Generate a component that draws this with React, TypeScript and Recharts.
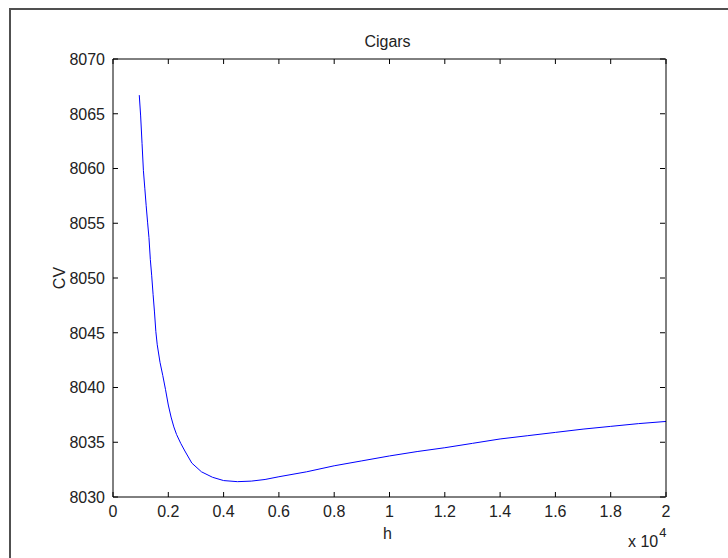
import { Line, LineChart, XAxis, YAxis } from "recharts";

const hValues = [
  950, 1000, 1050, 1100, 1150, 1200, 1250, 1300, 1350, 1400, 1450, 1500, 1550, 1600, 1700, 1800, 1900,
  2000, 2100, 2200, 2300, 2450, 2600, 2850, 3200, 3600, 4000, 4500, 5000, 5500, 6000, 7000, 8000, 9000,
  10000, 11000, 12000, 13000, 14000, 15000, 16000, 17000, 18000, 19000, 20000
];
const cvValues = [
  8066.7, 8064.8, 8062.3, 8059.8, 8058.2, 8056.6, 8055.1, 8053.7, 8051.7, 8050.2, 8048.5, 8046.9, 8045.1,
  8043.9, 8042.3, 8041.1, 8039.8, 8038.4, 8037.3, 8036.4, 8035.7, 8034.9, 8034.2, 8033.1, 8032.3, 8031.8,
  8031.5, 8031.4, 8031.45, 8031.6, 8031.85, 8032.3, 8032.85, 8033.3, 8033.75, 8034.15, 8034.5, 8034.9,
  8035.3, 8035.6, 8035.9, 8036.2, 8036.45, 8036.7, 8036.9
];
const xTicks = [0, 2000, 4000, 6000, 8000, 10000, 12000, 14000, 16000, 18000, 20000];
const yTicks = [8030, 8035, 8040, 8045, 8050, 8055, 8060, 8065, 8070];

const data = hValues.map((h, i) => ({ h, cv: cvValues[i] }));

const FONT = "'Liberation Sans', Arial, Helvetica, sans-serif";
const INK = "#222";
const TICK = 5;
// plot box size, used to mirror tick marks onto the top and right edges
const PLOT_W = 552;
const PLOT_H = 438;

const fmtX = (v: number) => String(Number((v / 10000).toFixed(1)));

function BottomTick({ x, y, payload }: any) {
  return (
    <g>
      <line x1={x} x2={x} y1={y} y2={y - TICK} stroke="#000" />
      <line x1={x} x2={x} y1={y - PLOT_H} y2={y - PLOT_H + TICK} stroke="#000" />
      <text x={x} y={y + 20} textAnchor="middle" fill={INK} fontSize={16} fontFamily={FONT}>
        {fmtX(payload.value)}
      </text>
    </g>
  );
}

function LeftTick({ x, y, payload }: any) {
  return (
    <g>
      <line x1={x} x2={x + TICK} y1={y} y2={y} stroke="#000" />
      <line x1={x + PLOT_W} x2={x + PLOT_W - TICK} y1={y} y2={y} stroke="#000" />
      <text x={x - 8} y={y} dy="0.36em" textAnchor="end" fill={INK} fontSize={16} fontFamily={FONT}>
        {payload.value}
      </text>
    </g>
  );
}

function XLabel({ viewBox }: any) {
  const { x, y, width } = viewBox;
  return (
    <g fill={INK} fontFamily={FONT}>
      <text x={x + width / 2 - 2} y={y + 42} textAnchor="middle" fontSize={16}>
        h
      </text>
      <text x={x + width - 38} y={y + 50} fontSize={16}>
        x 10
        <tspan dx={1} dy={-10} fontSize={13}>
          4
        </tspan>
      </text>
      <text x={x + width / 2 - 2} y={y - 450} textAnchor="middle" fontSize={16}>
        Cigars
      </text>
    </g>
  );
}

function YLabel({ viewBox }: any) {
  const { y, height } = viewBox;
  const cx = 59;
  const cy = y + height / 2;
  return (
    <text x={cx} y={cy} transform={`rotate(-90 ${cx} ${cy})`} textAnchor="middle" dy="0.36em" fill={INK} fontSize={16} fontFamily={FONT}>
      CV
    </text>
  );
}

export default function App() {
  return (
    <div style={{ position: "absolute", left: 0, top: 0, width: 728, height: 558, overflow: "hidden", background: "#fff" }}>
      <div
        style={{
          position: "absolute",
          left: 9,
          top: 8,
          width: 760,
          height: 600,
          borderLeft: "2px solid #505050",
          borderTop: "2px solid #505050"
        }}
      />
      <div style={{ position: "absolute", left: 0, top: 0 }}>
        <LineChart width={728} height={558} data={data} margin={{ top: 58, right: 61, left: 0, bottom: 0 }}>
          <XAxis
            dataKey="h"
            type="number"
            domain={[0, 20000]}
            ticks={xTicks}
            interval={0}
            height={61}
            tickSize={0}
            tickMargin={0}
            tickLine={false}
            axisLine={{ stroke: "#000" }}
            tick={<BottomTick />}
            label={{ content: (p: any) => <XLabel {...p} /> }}
          />
          <XAxis
            xAxisId="top"
            orientation="top"
            type="number"
            domain={[0, 20000]}
            height={1}
            tickLine={false}
            axisLine={{ stroke: "#000" }}
            tick={false}
          />
          <YAxis
            type="number"
            domain={[8030, 8070]}
            ticks={yTicks}
            interval={0}
            width={113}
            tickSize={0}
            tickMargin={0}
            tickLine={false}
            axisLine={{ stroke: "#000" }}
            tick={<LeftTick />}
            label={{ content: (p: any) => <YLabel {...p} /> }}
          />
          <YAxis
            yAxisId="right"
            orientation="right"
            type="number"
            domain={[8030, 8070]}
            width={1}
            tickLine={false}
            axisLine={{ stroke: "#000" }}
            tick={false}
          />
          <Line dataKey="cv" type="linear" stroke="#0000ff" strokeWidth={1} dot={false} isAnimationActive={false} />
        </LineChart>
      </div>
    </div>
  );
}
